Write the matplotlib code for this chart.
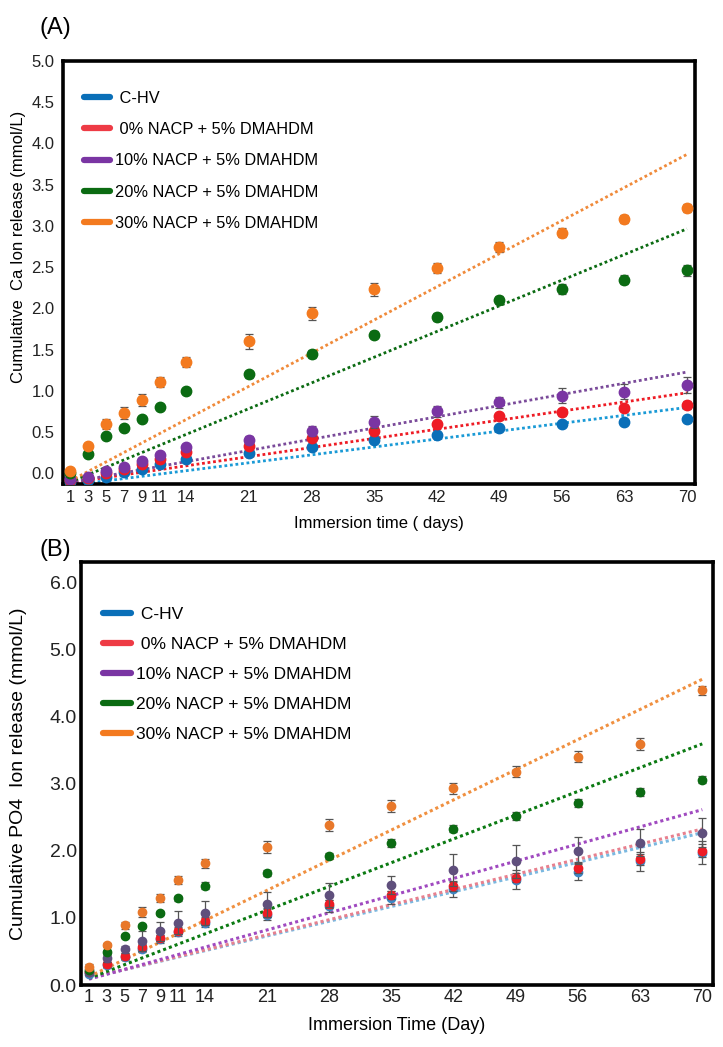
import matplotlib
matplotlib.use("Agg")
import matplotlib.pyplot as plt
from matplotlib.lines import Line2D
import numpy as np

plt.rcParams['font.family'] = ['Liberation Sans', 'DejaVu Sans']

days = [1, 3, 5, 7, 9, 11, 14, 21, 28, 35, 42, 49, 56, 63, 70]
tick_labels = [str(d) for d in days]
groups = ["C-HV", "0% NACP + 5% DMAHDM", "10% NACP + 5% DMAHDM",
          "20% NACP + 5% DMAHDM", "30% NACP + 5% DMAHDM"]
legend_labels = [" C-HV", " 0% NACP + 5% DMAHDM", "10% NACP + 5% DMAHDM",
                 "20% NACP + 5% DMAHDM", "30% NACP + 5% DMAHDM"]

# ---- Panel A: Ca ----
ca_chv = [-0.10, -0.08, -0.04, 0.02, 0.05, 0.11, 0.17, 0.25, 0.32, 0.40, 0.47, 0.55, 0.60, 0.62, 0.66]
ca_0 = [-0.08, -0.06, 0.00, 0.05, 0.11, 0.17, 0.26, 0.33, 0.43, 0.51, 0.60, 0.69, 0.74, 0.79, 0.83]
ca_10 = [-0.07, -0.04, 0.03, 0.08, 0.15, 0.22, 0.32, 0.40, 0.51, 0.62, 0.75, 0.86, 0.94, 0.99, 1.07]
ca_20 = [0.00, 0.24, 0.45, 0.55, 0.66, 0.81, 1.00, 1.20, 1.45, 1.68, 1.90, 2.10, 2.24, 2.35, 2.46]
ca_30 = [0.03, 0.33, 0.60, 0.73, 0.89, 1.11, 1.35, 1.60, 1.94, 2.23, 2.49, 2.74, 2.92, 3.08, 3.22]
ca_err_chv = [0.02] * 15
ca_err_0 = [0.02, 0.02, 0.02, 0.03, 0.03, 0.03, 0.03, 0.04, 0.04, 0.04, 0.04, 0.04, 0.04, 0.04, 0.05]
ca_err_10 = [0.02, 0.02, 0.03, 0.03, 0.03, 0.04, 0.04, 0.05, 0.06, 0.07, 0.07, 0.07, 0.09, 0.09, 0.10]
ca_err_20 = [0.02, 0.02, 0.03, 0.03, 0.03, 0.03, 0.04, 0.04, 0.05, 0.04, 0.05, 0.05, 0.06, 0.06, 0.07]
ca_err_30 = [0.03, 0.04, 0.06, 0.07, 0.07, 0.06, 0.06, 0.09, 0.08, 0.08, 0.06, 0.06, 0.05, 0.05, 0.05]
ca_trend_slope = [0.0137, 0.0158, 0.0194, 0.0445, 0.0574]
ca_trend_intercept = [-0.16, -0.13, -0.13, -0.15, -0.15]

# ---- Panel B: PO4 ----
po_chv = [0.17, 0.30, 0.41, 0.54, 0.68, 0.79, 0.93, 1.05, 1.18, 1.30, 1.43, 1.57, 1.69, 1.84, 1.97]
po_0 = [0.19, 0.31, 0.43, 0.56, 0.70, 0.81, 0.96, 1.08, 1.21, 1.34, 1.47, 1.60, 1.75, 1.87, 2.00]
po_10 = [0.19, 0.40, 0.53, 0.66, 0.80, 0.93, 1.07, 1.20, 1.34, 1.49, 1.71, 1.84, 2.00, 2.12, 2.27]
po_20 = [0.22, 0.49, 0.73, 0.88, 1.07, 1.29, 1.48, 1.67, 1.92, 2.12, 2.33, 2.52, 2.71, 2.88, 3.06]
po_30 = [0.27, 0.60, 0.89, 1.09, 1.30, 1.57, 1.81, 2.05, 2.39, 2.66, 2.93, 3.18, 3.40, 3.59, 4.39]
po_err_chv = [0.03, 0.04, 0.04, 0.05, 0.06, 0.06, 0.07, 0.08, 0.09, 0.10, 0.12, 0.14, 0.13, 0.14, 0.17]
po_err_0 = [0.03, 0.04, 0.04, 0.05, 0.05, 0.05, 0.05, 0.06, 0.06, 0.06, 0.07, 0.07, 0.08, 0.08, 0.10]
po_err_10 = [0.04, 0.05, 0.05, 0.15, 0.14, 0.17, 0.18, 0.18, 0.18, 0.14, 0.24, 0.24, 0.20, 0.20, 0.22]
po_err_20 = [0.03, 0.03, 0.03, 0.03, 0.03, 0.04, 0.05, 0.04, 0.04, 0.06, 0.05, 0.06, 0.06, 0.06, 0.05]
po_err_30 = [0.05, 0.03, 0.05, 0.07, 0.06, 0.06, 0.06, 0.09, 0.09, 0.09, 0.08, 0.08, 0.08, 0.09, 0.07]
po_trend_slope = [0.0314, 0.0322, 0.0366, 0.0506, 0.0642]
po_trend_intercept = [0.07, 0.07, 0.05, 0.05, 0.06]

colors_a = ["#0a6fb8", "#ee1c25", "#7a35a3", "#0b6b12", "#f37a1f"]
trend_a = ["#1a9ad6", "#ee1c25", "#7a4a9a", "#0b6b12", "#f08a3a"]
colors_b = ["#3d87c4", "#ee1c25", "#5f4f7c", "#0b6b12", "#e8782a"]
trend_b = ["#7ab8e0", "#e8808e", "#a04ac0", "#0b7a12", "#f09040"]
legend_colors = ["#0a6fb8", "#ee3b45", "#7a35a3", "#0b6b12", "#f37a1f"]

fig = plt.figure(figsize=(7.23, 10.47), dpi=100)

def draw(ax, series, errs, slopes, intercepts, cols, tcols, ms, tlw):
    x0, x1 = days[0], days[-1]
    for i in range(5):
        xs = np.array([x0, x1])
        ax.plot(xs, slopes[i] * xs + intercepts[i], linestyle=(0, (1, 1)),
                color=tcols[i], lw=tlw, zorder=2)
    for i in range(5):
        ax.errorbar(days, series[i], yerr=errs[i], fmt='o', color=cols[i],
                    ms=ms, ecolor="#555555", elinewidth=0.9, capsize=3,
                    capthick=0.9, zorder=3 + i)

# Panel A
axA = fig.add_axes([0.0871, 0.5377, 0.8742, 0.4040])
draw(axA, [ca_chv, ca_0, ca_10, ca_20, ca_30],
     [ca_err_chv, ca_err_0, ca_err_10, ca_err_20, ca_err_30],
     ca_trend_slope, ca_trend_intercept, colors_a, trend_a, 7.5, 2.0)
axA.set_xlim(0.2, 70.9)
axA.set_ylim(-0.13, 4.97)
axA.set_yticks(np.arange(0, 5.01, 0.5))
axA.set_yticklabels([f"{v:.1f}" for v in np.arange(0, 5.01, 0.5)])
axA.set_xticks(days)
axA.set_xticklabels(tick_labels)
axA.tick_params(axis='both', length=0, labelsize=12, colors="#222222", pad=4)
axA.tick_params(axis='y', pad=6)
for s in axA.spines.values():
    s.set_linewidth(2.6)
axA.set_xlabel("Immersion time ( days)", fontsize=12, labelpad=8)
axA.set_ylabel("Cumulative  Ca Ion release (mmol/L)", fontsize=12)
axA.yaxis.set_label_coords(-0.058, 0.56)
fig.text(0.055, 0.973, "(A)", fontsize=17, va='center', ha='left')
handles = [Line2D([0], [0], color=c, lw=4.5, solid_capstyle='round') for c in legend_colors]
axA.legend(handles, legend_labels, loc='upper left', bbox_to_anchor=(0.01, 0.965),
           frameon=False, fontsize=11.8, handlelength=1.6, handletextpad=0.3,
           labelspacing=1.0)

# Panel B
axB = fig.add_axes([0.1120, 0.0592, 0.8741, 0.4040])
draw(axB, [po_chv, po_0, po_10, po_20, po_30],
     [po_err_chv, po_err_0, po_err_10, po_err_20, po_err_30],
     po_trend_slope, po_trend_intercept, colors_b, trend_b, 6, 2.2)
axB.set_xlim(0.1, 71.2)
axB.set_ylim(0, 6.3)
axB.set_yticks(np.arange(0, 6.01, 1.0))
axB.set_yticklabels([f"{v:.1f}" for v in np.arange(0, 6.01, 1.0)])
axB.set_xticks(days)
axB.set_xticklabels(tick_labels)
axB.set_xticks(np.arange(2, 71, 2), minor=True)
axB.tick_params(axis='both', length=0, labelsize=14, colors="#222222", pad=3)
axB.tick_params(axis='x', labelsize=13)
axB.tick_params(axis='x', which='minor', length=4, width=1.0, color='white', direction='inout')
for s in axB.spines.values():
    s.set_linewidth(2.6)
axB.set_xlabel("Immersion Time (Day)", fontsize=13, labelpad=8)
axB.set_ylabel("Cumulative PO4  Ion release (mmol/L)", fontsize=14, labelpad=10)
axB.yaxis.set_label_coords(-0.085, 0.5)
fig.text(0.055, 0.4745, "(B)", fontsize=17, va='center', ha='left')
axB.legend(handles, legend_labels, loc='upper left', bbox_to_anchor=(0.01, 0.93),
           frameon=False, fontsize=12.5, handlelength=1.6, handletextpad=0.3,
           labelspacing=0.85)

fig.savefig("out.png", dpi=100)
